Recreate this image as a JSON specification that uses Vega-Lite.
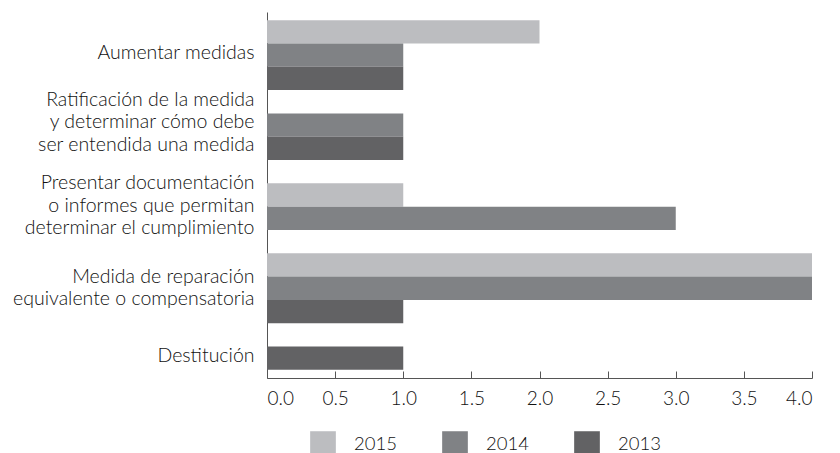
{
  "$schema": "https://vega.github.io/schema/vega-lite/v6.json",
  "width": 545,
  "height": 366,
  "autosize": {"type": "none"},
  "padding": {"left": 267, "top": 12, "right": 28, "bottom": 75},
  "background": "white",
  "config": {
    "view": {"stroke": null},
    "font": "Lato",
    "axis": {"labelFont": "Lato", "labelFontWeight": 300, "labelColor": "#111111", "labelFontSize": 19.5, "domainColor": "#555555", "tickColor": "#555555", "grid": false, "title": null}
  },
  "data": {
    "values": [
      {"cat": "Aumentar medidas", "year": "2015", "value": 2},
      {"cat": "Aumentar medidas", "year": "2014", "value": 1},
      {"cat": "Aumentar medidas", "year": "2013", "value": 1},
      {"cat": "Ratificación de la medida|y determinar cómo debe|ser entendida una medida", "year": "2014", "value": 1},
      {"cat": "Ratificación de la medida|y determinar cómo debe|ser entendida una medida", "year": "2013", "value": 1},
      {"cat": "Presentar documentación|o informes que permitan|determinar el cumplimiento", "year": "2015", "value": 1},
      {"cat": "Presentar documentación|o informes que permitan|determinar el cumplimiento", "year": "2014", "value": 3},
      {"cat": "Medida de reparación|equivalente o compensatoria", "year": "2015", "value": 4},
      {"cat": "Medida de reparación|equivalente o compensatoria", "year": "2014", "value": 4},
      {"cat": "Medida de reparación|equivalente o compensatoria", "year": "2013", "value": 1},
      {"cat": "Destitución", "year": "2013", "value": 1}
    ]
  },
  "transform": [{"calculate": "datum.cat + '#' + datum.year", "as": "key"}],
  "resolve": {"axis": {"y": "independent"}},
  "layer": [
    {
      "mark": {"type": "bar"},
      "encoding": {
        "y": {
          "field": "key",
          "type": "nominal",
          "scale": {
            "domain": [
              "Aumentar medidas#2015", "Aumentar medidas#2014", "Aumentar medidas#2013",
              "Ratificación de la medida|y determinar cómo debe|ser entendida una medida#",
              "Ratificación de la medida|y determinar cómo debe|ser entendida una medida#2014",
              "Ratificación de la medida|y determinar cómo debe|ser entendida una medida#2013",
              "Presentar documentación|o informes que permitan|determinar el cumplimiento#",
              "Presentar documentación|o informes que permitan|determinar el cumplimiento#2015",
              "Presentar documentación|o informes que permitan|determinar el cumplimiento#2014",
              "Medida de reparación|equivalente o compensatoria#",
              "Medida de reparación|equivalente o compensatoria#2015",
              "Medida de reparación|equivalente o compensatoria#2014",
              "Medida de reparación|equivalente o compensatoria#2013",
              "Destitución#",
              "Destitución#2013"
            ],
            "paddingInner": 0,
            "paddingOuter": 0.35
          },
          "axis": {
            "orient": "left",
            "ticks": false,
            "labelPadding": 13,
            "labelOffset": -2,
            "labelLineHeight": 22.5,
            "labelOverlap": false,
            "labelLimit": 400,
            "labelExpr": "test(regexp('^Aumentar.*#2014$|^Ratificación.*#$|^Destitución.*#2013$'), datum.value) ? split(replace(datum.value, regexp('#.*$'), ''), '|') : ''"
          }
        },
        "x": {
          "field": "value",
          "type": "quantitative",
          "scale": {"domain": [0, 4], "nice": false},
          "axis": {"values": [0, 0.5, 1, 1.5, 2, 2.5, 3, 3.5, 4], "format": ".1f", "tickSize": -7, "labelPadding": 18, "labelFontSize": 19}
        },
        "color": {
          "field": "year",
          "type": "nominal",
          "scale": {"domain": ["2015", "2014", "2013"], "range": ["#bcbdc0", "#808285", "#626264"]},
          "legend": {
            "title": null,
            "orient": "none",
            "legendX": 43,
            "legendY": 419,
            "direction": "horizontal",
            "symbolType": "square",
            "symbolSize": 660,
            "symbolStrokeWidth": 0,
            "labelFont": "Lato",
            "labelFontWeight": 300,
            "labelFontSize": 18.5,
            "labelColor": "#111111",
            "labelOffset": 18,
            "columnPadding": 45
          }
        }
      }
    },
    {
      "mark": {"type": "bar", "opacity": 0},
      "encoding": {
        "y": {
          "field": "key",
          "type": "nominal",
          "axis": {
            "orient": "left",
            "domain": false,
            "ticks": false,
            "labelPadding": 13,
            "labelOffset": -11.65,
            "labelLineHeight": 22.5,
            "labelOverlap": false,
            "labelLimit": 400,
            "labelExpr": "test(regexp('^Presentar.*#2015$|^Medida.*#2014$'), datum.value) ? split(replace(datum.value, regexp('#.*$'), ''), '|') : ''"
          }
        },
        "x": {"field": "value", "type": "quantitative"}
      }
    }
  ]
}
